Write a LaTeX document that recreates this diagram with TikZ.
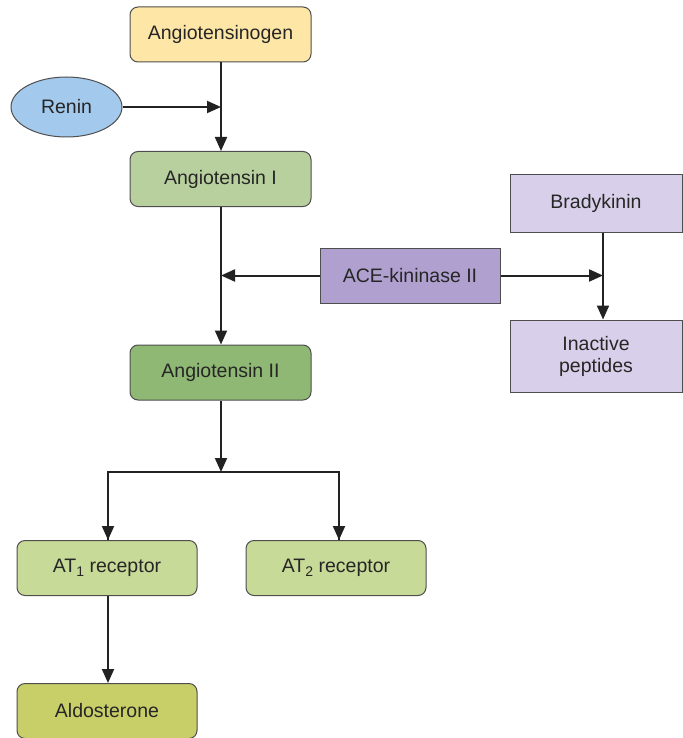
\documentclass[tikz,border=0pt]{standalone}
\usepackage{fontspec}
\setmainfont{Liberation Sans}
\usetikzlibrary{arrows.meta,shapes.geometric}
\definecolor{cYel}{HTML}{FDE6A6}
\definecolor{cRen}{HTML}{A3C9EC}
\definecolor{cAng1}{HTML}{B8D09E}
\definecolor{cAng2}{HTML}{8FB874}
\definecolor{cAce}{HTML}{B0A0D0}
\definecolor{cBra}{HTML}{D8D0EA}
\definecolor{cRec}{HTML}{C8DA97}
\definecolor{cAld}{HTML}{C8CF68}
\definecolor{cLine}{HTML}{222222}
\newcommand{\lowsub}[1]{\raisebox{-0.35ex}{\fontsize{14}{16}\selectfont #1}}
\tikzset{
  box/.style={draw=cLine!80, line width=1pt, rounded corners=8pt, minimum width=181pt, minimum height=55pt, inner sep=0pt, align=center, font=\fontsize{19.5}{22}\selectfont, text=black!85},
  sqbox/.style={box, rounded corners=0pt},
  conn/.style={draw=cLine, line width=2pt, -{Triangle[length=14pt,width=12pt]}},
  plain/.style={draw=cLine, line width=2pt}
}
\begin{document}
\begin{tikzpicture}[x=1pt,y=-1pt]
\useasboundingbox (0,0) rectangle (682,738);
\node[box, fill=cYel] (agen) at (220.5,34.5) {Angiotensinogen};
\node[draw=cLine!80, line width=1pt, ellipse, fill=cRen, minimum width=111pt, minimum height=60pt, inner sep=0pt, font=\fontsize{19.5}{22}\selectfont, text=black!85] (renin) at (66.5,107) {Renin};
\node[box, fill=cAng1] (ang1) at (220.5,179) {Angiotensin I};
\node[box, fill=cAng2] (ang2) at (220.5,372.5) {Angiotensin II};
\node[sqbox, fill=cAce, minimum width=180pt] (ace) at (410,275.5) {ACE-kininase II};
\node[sqbox, fill=cBra, minimum width=172pt, minimum height=57pt] (brady) at (596,203.5) {Bradykinin};
\node[sqbox, fill=cBra, minimum width=172pt, minimum height=72pt] (inact) at (596,356) {Inactive\\peptides};
\node[box, fill=cRec, minimum width=180pt] (at1) at (107,568) {AT\lowsub{1} receptor};
\node[box, fill=cRec, minimum width=180pt] (at2) at (336,568) {AT\lowsub{2} receptor};
\node[box, fill=cAld, minimum width=180pt] (ald) at (107,711) {Aldosterone};

\coordinate (j1) at (221,107);
\coordinate (j2) at (221,275.5);
\coordinate (j3) at (603,275.5);
\coordinate (j4) at (221,472);

\draw[conn] (agen.south -| j1) -- (ang1.north -| j1);
\draw[conn] (renin.east) -- (j1);
\draw[conn] (ang1.south -| j1) -- (ang2.north -| j1);
\draw[conn] (ace.west) -- (j2);
\draw[conn] (ace.east) -- (j3);
\draw[conn] (brady.south -| j3) -- (inact.north -| j3);
\draw[conn] (ang2.south -| j4) -- (j4);
\draw[plain] (j4) -| ([xshift=1pt]at1.north) ;
\draw[conn] (j4 -| at1.north) ++(1,0) -- ([xshift=1pt]at1.north);
\draw[plain] (j4) -| ([xshift=3pt]at2.north);
\draw[conn] (j4 -| at2.north) ++(3,0) -- ([xshift=3pt]at2.north);
\draw[conn] ([xshift=1pt]at1.south) -- ([xshift=1pt]ald.north);
\end{tikzpicture}
\end{document}
